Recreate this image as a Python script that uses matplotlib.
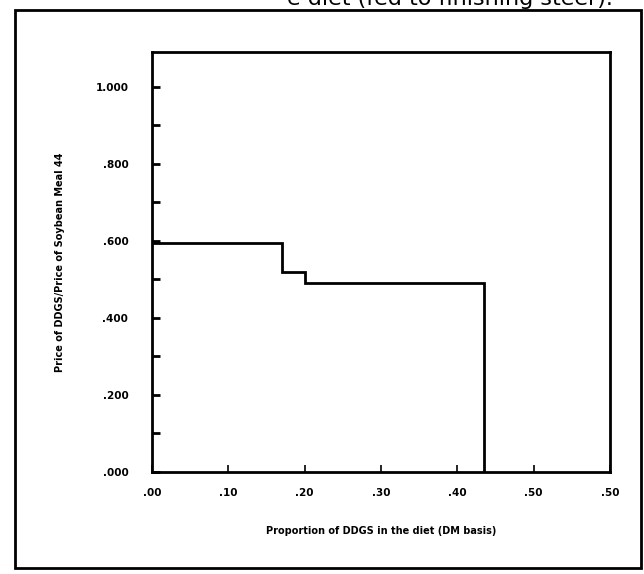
import matplotlib.pyplot as plt
import matplotlib.patches as patches

# step breakpoints
share = [0.00, 0.17, 0.20, 0.435]
price_ratio = [0.595, 0.52, 0.49]

x_ticks = [0.0, 0.1, 0.2, 0.3, 0.4, 0.5, 0.6]
x_labels = ['.00', '.10', '.20', '.30', '.40', '.50', '.50']
y_ticks = [0.0, 0.2, 0.4, 0.6, 0.8, 1.0]
y_labels = ['.000', '.200', '.400', '.600', '.800', '1.000']

fig = plt.figure(figsize=(6.44, 5.74), dpi=100)
ax = fig.add_axes([0.236, 0.178, 0.711, 0.731])

# step line: each level runs to the next breakpoint, then drops to zero
xs, ys = [], []
for i, v in enumerate(price_ratio):
    xs += [share[i], share[i + 1]]
    ys += [v, v]
xs.append(share[-1])
ys.append(0.0)
ax.plot(xs, ys, color='black', lw=2.0, solid_joinstyle='miter')

ax.set_xlim(0, 0.6)
ax.set_ylim(0, 1.09)
for s in ax.spines.values():
    s.set_linewidth(2.0)

ax.set_xticks(x_ticks)
ax.set_xticklabels(x_labels, fontsize=7.5, fontweight='bold')
ax.set_yticks(y_ticks)
ax.set_yticklabels(y_labels, fontsize=7.5, fontweight='bold')
ax.set_yticks([0.1, 0.3, 0.5, 0.7, 0.9], minor=True)
ax.tick_params(axis='y', which='both', direction='in', length=6, width=2, pad=17)
ax.tick_params(axis='x', direction='in', length=5, width=1.2, pad=12)

ax.set_xlabel('Proportion of DDGS in the diet (DM basis)', fontsize=7,
              fontweight='bold', labelpad=20)
ax.set_ylabel('Price of DDGS/Price of Soybean Meal 44', fontsize=7,
              fontweight='bold', labelpad=22)

# outer box of the scanned page
fig.patches.append(patches.Rectangle((15 / 644, 6 / 574), 626 / 644, 558 / 574,
                                     transform=fig.transFigure, fill=False,
                                     lw=2.0, edgecolor='black'))

# caption line cut off at the top of the scan
fig.text(0.445, 1 - 5 / 574, 'e diet (fed to finishing steer).', fontsize=16,
         ha='left', va='baseline')

fig.savefig('out.png', dpi=100)
